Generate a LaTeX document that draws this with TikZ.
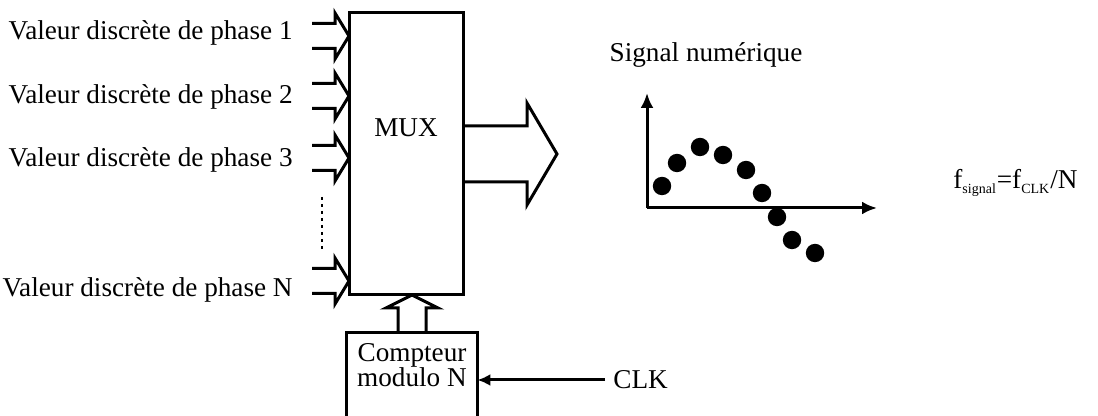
\documentclass[tikz,border=0pt]{standalone}
\usepackage{fontspec}
\setmainfont{Liberation Serif}
\usetikzlibrary{arrows.meta,positioning}
\newcommand{\smallsub}[1]{\textsubscript{\fontsize{7}{8}\selectfont #1}}

\begin{document}
\begin{tikzpicture}[x=0.5pt,y=-0.5pt,
  every node/.style={font=\fontsize{13.6}{12.5}\selectfont},
  box/.style={draw,line width=1.5pt,inner sep=0pt,outer sep=0pt},
  lbl/.style={anchor=east,inner sep=0pt},
  wire/.style={line width=1.5pt,line join=miter},
  busin/.pic={\draw[wire] (-37,-12.5) -- (-14,-12.5) -- (-14,-23) -- (0,0)
    -- (-14,23) -- (-14,12.5) -- (-37,12.5);}]
\useasboundingbox (0,0) rectangle (1098,416);

% multiplexer and its inputs
\node[box,minimum width=57pt,minimum height=141pt,
  label={[yshift=13pt]center:MUX}] (mux) at (406,154) {};
\node[lbl] (ph1) at (293,33) {Valeur discrète de phase 1};
\node[lbl] (ph2) at (293,97) {Valeur discrète de phase 2};
\node[lbl] (ph3) at (293,160) {Valeur discrète de phase 3};
\node[lbl] (phN) at (293,290) {Valeur discrète de phase N};
\foreach \n/\dy in {1/-1.5pt,2/0.5pt,3/1pt,N/4.5pt}
  \pic[yshift=\dy] at (mux.west |- ph\n.east) {busin};
\draw[wire,dotted,line width=1pt] (322,197) -- (322,250);

% output bus
\draw[wire] ([yshift=14pt]mux.east) -- ++(64,0) -- ++(0,-23) -- ++(30,51)
  -- ++(-30,51) -- ++(0,-23) -- ([yshift=-14pt]mux.east);

% counter
\node[align=center,anchor=north,inner xsep=0pt,inner ysep=5pt,
  minimum width=65pt] (cnt) at (412,333) {Compteur\\modulo N};
\draw[wire] (cnt.north west |- 0,418) |- (cnt.north east)
  -- (cnt.north east |- 0,418);
\draw[wire] ([xshift=-7pt]cnt.north) -- ++(0,-25) -- ++(-12,0)
  -- (cnt.north |- mux.south) -- ++(26,13) -- ++(-12,0)
  -- ([xshift=7pt]cnt.north);
\node[anchor=west,inner sep=0pt] (clk) at (613,380) {CLK};
\draw[wire,-{Latex[length=6.5pt,width=6pt]}] ([xshift=-4pt]clk.west)
  -- (clk.west -| cnt.east);

% digital signal
\node (sig) at (706,55) {Signal numérique};
\coordinate (o) at (647,208);
\draw[wire,-{Latex[length=7.5pt,width=6.5pt]}] (o) -- (647,93);
\draw[wire,-{Latex[length=7.5pt,width=6.5pt]}] (o) -- (877,208);
\foreach \p in {(662,186),(677,163),(700,147),(723,155),(746,170),
  (762,193),(777,217),(792,240),(815,253)}
  \fill \p circle[radius=4.6pt];
\node[anchor=west,inner sep=0pt] (fsig) at (953,183)
  {f\smallsub{signal}=f\smallsub{CLK}/N};
\end{tikzpicture}
\end{document}
